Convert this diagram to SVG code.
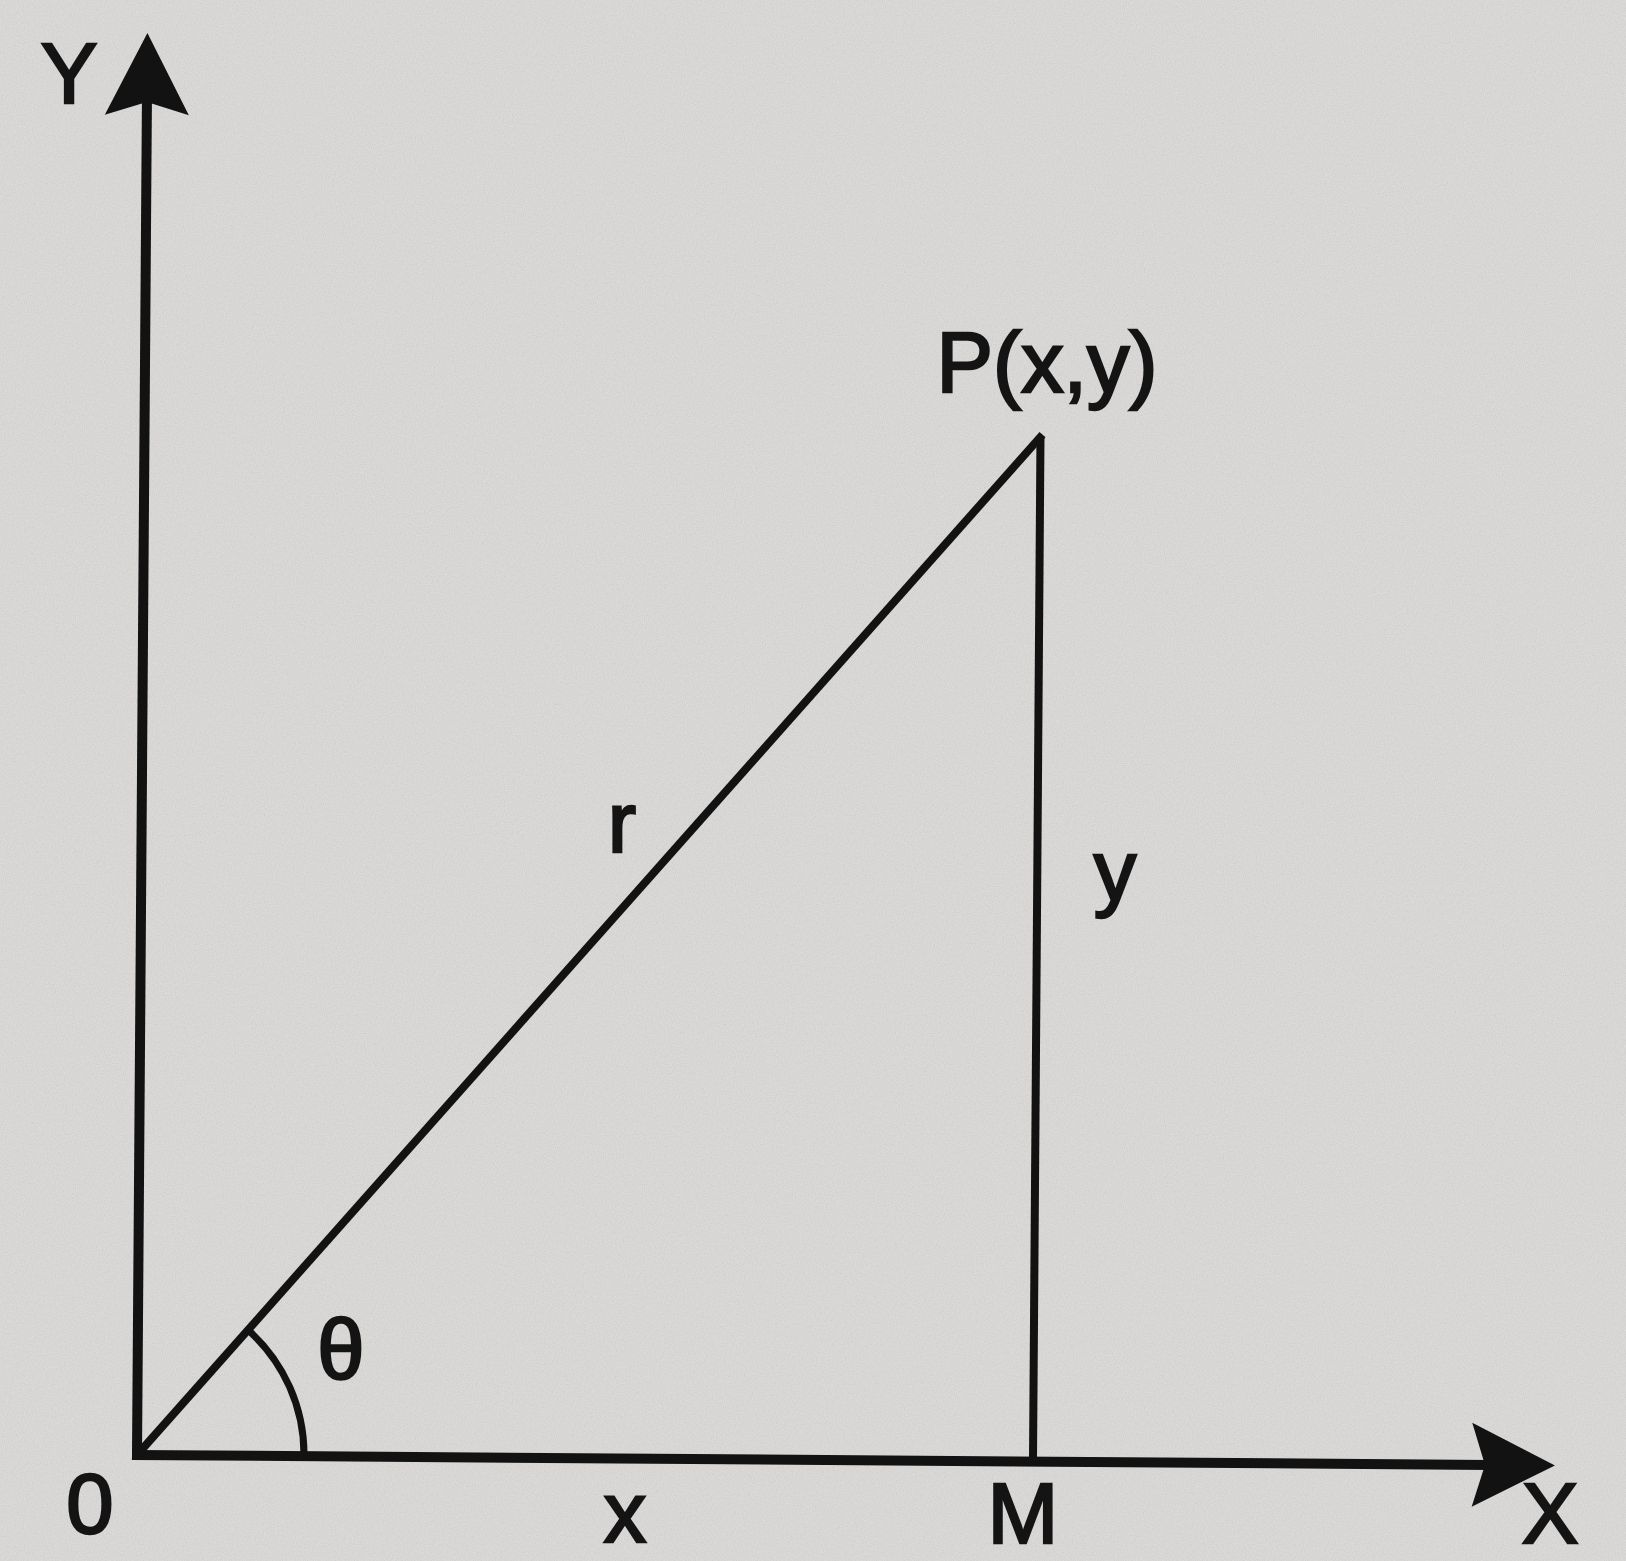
<svg xmlns="http://www.w3.org/2000/svg" width="1626" height="1561" viewBox="0 0 1626 1561">
  <style>
    .ln { stroke: #121212; fill: none; stroke-linecap: butt; }
    .ax { stroke-width: 10; }
    .th { stroke-width: 8; }
    .ah { fill: #121212; stroke: none; }
    .lb { font-family: "Liberation Sans", Arial, sans-serif; font-size: 85px; fill: #141414; stroke: #141414; stroke-width: 2.5; text-anchor: middle; }
  </style>
  <defs>
    <filter id="grain" x="0" y="0" width="100%" height="100%">
      <feTurbulence type="fractalNoise" baseFrequency="0.9" numOctaves="2" seed="4" result="n"/>
      <feColorMatrix in="n" type="matrix" values="0 0 0 0 0.45  0 0 0 0 0.44  0 0 0 0 0.43  0 0 0 -1.6 1.05"/>
    </filter>
  </defs>
  <rect x="0" y="0" width="1626" height="1561" fill="#dcdad8"/>
  <rect x="0" y="0" width="1626" height="1561" filter="url(#grain)" opacity="0.35"/>
  <g id="figure" transform="rotate(0.42 137 1455)">
    <g id="connectors">
      <line id="y-axis" class="ln ax" x1="137" y1="1460" x2="137" y2="95"/>
      <polygon class="ah" points="137,33 95,115 137,102 179,115"/>
      <line id="x-axis" class="ln ax" x1="132" y1="1455" x2="1490" y2="1455"/>
      <polygon class="ah" points="1555,1455 1472,1413 1485,1455 1472,1497"/>
      <line id="op" class="ln th" x1="137" y1="1455" x2="1035" y2="428"/>
      <line id="pm" class="ln th" x1="1033" y1="430" x2="1033" y2="1455"/>
      <path id="angle-arc" class="ln" stroke-width="7" d="M 304 1455 A 167 167 0 0 0 247 1329"/>
    </g>
  </g>
  <g id="labels">
    <g id="label-Y"><text class="lb" x="69" y="103">Y</text></g>
    <g id="label-X"><text class="lb" x="1550" y="1543" font-size="78">X</text></g>
    <g id="label-O"><text class="lb" x="90" y="1533" font-size="88">0</text></g>
    <g id="label-P"><text class="lb" x="1047" y="392" font-size="80" textLength="221" lengthAdjust="spacingAndGlyphs">P(x,y)</text></g>
    <g id="label-r"><text class="lb" x="622" y="852">r</text></g>
    <g id="label-y"><text class="lb" x="1115" y="900">y</text></g>
    <g id="label-x"><text class="lb" x="625" y="1542">x</text></g>
    <g id="label-M"><text class="lb" x="1023" y="1543">M</text></g>
    <g id="label-theta"><text class="lb" x="341" y="1379">θ</text></g>
  </g>
</svg>
